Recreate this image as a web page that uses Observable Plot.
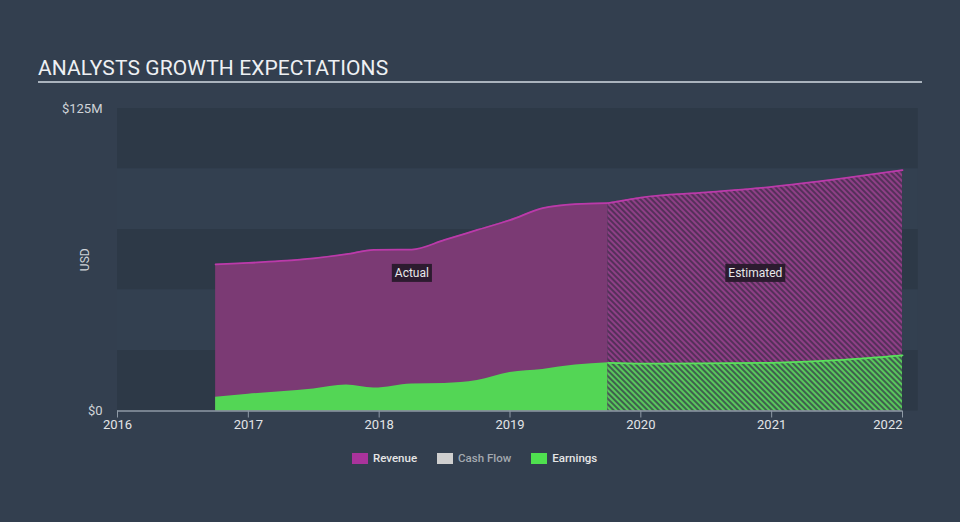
<!DOCTYPE html>
<html>
<head>
<meta charset="utf-8">
<script src="https://cdn.jsdelivr.net/npm/d3@7"></script>
<script src="https://cdn.jsdelivr.net/npm/@observablehq/plot@0.6"></script>
<style>
  html, body { margin: 0; padding: 0; background: #333f4f; }
  #wrap { position: relative; width: 960px; height: 522px; overflow: hidden; background: #333f4f; font-family: Roboto, "Noto Sans", sans-serif; }
  #title { position: absolute; left: 38px; top: 58px; font-size: 21px; line-height: 21px; color: #eef0f3; white-space: nowrap; letter-spacing: 0.1px; }
  #rule { position: absolute; left: 38px; top: 81px; width: 884px; height: 1.5px; background: #aab3bd; }
  #chart { position: absolute; left: 0; top: 95px; }
  #legend { position: absolute; left: 352px; top: 451px; display: flex; align-items: center; font-size: 11.5px; font-weight: 500; }
  .item { display: flex; align-items: center; margin-right: 20px; }
  .sw { width: 16px; height: 11px; margin-right: 5px; }
</style>
</head>
<body>
<div id="wrap">
  <div id="title"></div>
  <div id="rule"></div>
  <div id="chart"></div>
  <div id="legend"></div>
</div>
<script>
// ---- Data ----
const titleText = "ANALYSTS GROWTH EXPECTATIONS";
const actualYears    = [2016.75, 2017, 2017.25, 2017.5, 2017.75, 2017.96, 2018.25, 2018.5, 2018.75, 2019, 2019.25, 2019.5, 2019.75];
const actualRevenue  = [60.6, 61.2, 62.0, 63.1, 64.8, 66.6, 66.7, 70.7, 74.8, 78.9, 83.8, 85.5, 85.9];
const actualEarnings = [5.7, 6.9, 8.0, 9.1, 10.7, 9.5, 11.2, 11.4, 12.6, 15.9, 17.2, 19.0, 19.9];
const estYears    = [2019.75, 2020, 2020.5, 2021, 2021.5, 2022];
const estRevenue  = [85.9, 88.2, 90.3, 92.6, 95.8, 99.5];
const estEarnings = [19.9, 19.6, 19.7, 19.9, 21.0, 23.0];
const xTicks = [2016, 2017, 2018, 2019, 2020, 2021, 2022];
const yTicks = [0, 125];
const yTickLabels = ["$0", "$125M"];
const bandEdges = [0, 25, 50, 75, 100, 125];
const seriesNames = ["Revenue", "Cash Flow", "Earnings"];
const seriesColors = ["#a9339b", "#cfcfcf", "#4fe04f"];
const seriesTextColors = ["#e6e6e6", "#a3a9b0", "#e6e6e6"];
const phaseLabels = ["Actual", "Estimated"];

// ---- Build tables ----
const actual = actualYears.map((x, i) => ({x, rev: actualRevenue[i], earn: actualEarnings[i]}));
const est = estYears.map((x, i) => ({x, rev: estRevenue[i], earn: estEarnings[i]}));
const bands = bandEdges.slice(0, -1).map((lo, i) => ({lo, hi: bandEdges[i + 1], i}));
const xStart = xTicks[0], xEnd = xTicks[xTicks.length - 1];
const yMid = (yTicks[0] + yTicks[1]) / 2;
const phases = [
  {label: phaseLabels[0], x: (actualYears[0] + actualYears[actualYears.length - 1]) / 2},
  {label: phaseLabels[1], x: (estYears[0] + estYears[estYears.length - 1]) / 2}
];

document.getElementById("title").textContent = titleText;

const curve = "monotone-x";
const chart = Plot.plot({
  width: 960,
  height: 345,
  marginLeft: 117,
  marginRight: 58,
  marginTop: 13,
  marginBottom: 29.5,
  x: {domain: [xStart, xEnd], axis: null},
  y: {domain: [yTicks[0], yTicks[1]], axis: null},
  style: {background: "transparent", fontFamily: "Roboto, sans-serif", overflow: "visible"},
  marks: [
    Plot.rect(bands.filter(d => d.i % 2 === 0), {x1: xStart, x2: xEnd + 0.12, y1: "lo", y2: "hi", fill: "#2d3947"}),
    Plot.rect(bands.filter(d => d.i % 2 === 1), {x1: xStart, x2: xEnd + 0.12, y1: "lo", y2: "hi", fill: "#334050"}),
    // actual
    Plot.areaY(actual, {x: "x", y: "rev", fill: "#7b3a74", curve}),
    Plot.lineY(actual, {x: "x", y: "rev", stroke: "#bb3aaa", strokeWidth: 1.8, curve}),
    Plot.areaY(actual, {x: "x", y: "earn", fill: "#53d655", curve}),
    // estimated
    Plot.areaY(est, {x: "x", y: "rev", fill: "url(#hatchRev)", curve}),
    Plot.lineY(est, {x: "x", y: "rev", stroke: "#bb3aaa", strokeWidth: 1.8, curve}),
    Plot.areaY(est, {x: "x", y: "earn", fill: "url(#hatchEarn)", curve}),
    Plot.lineY(est, {x: "x", y: "earn", stroke: "#5ae05c", strokeWidth: 1.8, curve}),
    // phase labels
    Plot.text(phases, {x: "x", y: yMid - 5.5, text: "label", fill: "#e8e8ea", fontSize: 12}),
    // axis
    Plot.ruleY([0], {x1: xStart, x2: xEnd, stroke: "#8f9aa6", strokeWidth: 1.5}),
    Plot.ruleX(xTicks, {x: d => d, y1: 0, y2: 0, insetBottom: -7, stroke: "#8f9aa6", strokeWidth: 1}),
    Plot.text(xTicks.slice(0, -1), {x: d => d, y: 0, dy: 14, text: d => String(d), fill: "#e2e4e7", fontSize: 13}),
    Plot.text(xTicks.slice(-1), {x: d => d, y: 0, dy: 14, text: d => String(d), fill: "#e2e4e7", fontSize: 13, textAnchor: "end"}),
    Plot.text(yTicks, {x: xStart, y: d => d, dx: -15, text: (d, i) => yTickLabels[i], textAnchor: "end", fill: "#cfd3d8", fontSize: 13}),
    Plot.text(["USD"], {x: xStart, y: yMid, dx: -32, text: d => d, rotate: -90, fill: "#cfd3d8", fontSize: 12})
  ]
});

document.getElementById("chart").appendChild(chart);

// hatch patterns
const svg = d3.select(chart);
const defs = svg.insert("defs", ":first-child");
function hatch(id, bg, fg) {
  const p = defs.append("pattern").attr("id", id).attr("patternUnits", "userSpaceOnUse")
    .attr("width", 4).attr("height", 4).attr("patternTransform", "rotate(-45)");
  p.append("rect").attr("width", 4).attr("height", 4).attr("fill", bg);
  p.append("rect").attr("width", 2).attr("height", 4).attr("fill", fg);
}
hatch("hatchRev", "#55305a", "#8e3f86");
hatch("hatchEarn", "#40604f", "#58c85a");

// label boxes
const labelNodes = [];
chart.querySelectorAll("text").forEach(t => { if (phaseLabels.includes(t.textContent)) labelNodes.push(t); });
labelNodes.forEach(t => {
  const b = t.getBBox();
  const r = document.createElementNS("http://www.w3.org/2000/svg", "rect");
  r.setAttribute("x", b.x - 3);
  r.setAttribute("y", b.y - 2);
  r.setAttribute("width", b.width + 6);
  r.setAttribute("height", b.height + 4);
  r.setAttribute("fill", "#2c1b2f");
  const tr = t.getAttribute("transform");
  if (tr) r.setAttribute("transform", tr);
  t.parentNode.insertBefore(r, t);
});

// legend
const legend = d3.select("#legend");
seriesNames.forEach((name, i) => {
  const it = legend.append("div").attr("class", "item");
  it.append("div").attr("class", "sw").style("background", seriesColors[i]);
  it.append("span").text(name).style("color", seriesTextColors[i]);
});
</script>
</body>
</html>
